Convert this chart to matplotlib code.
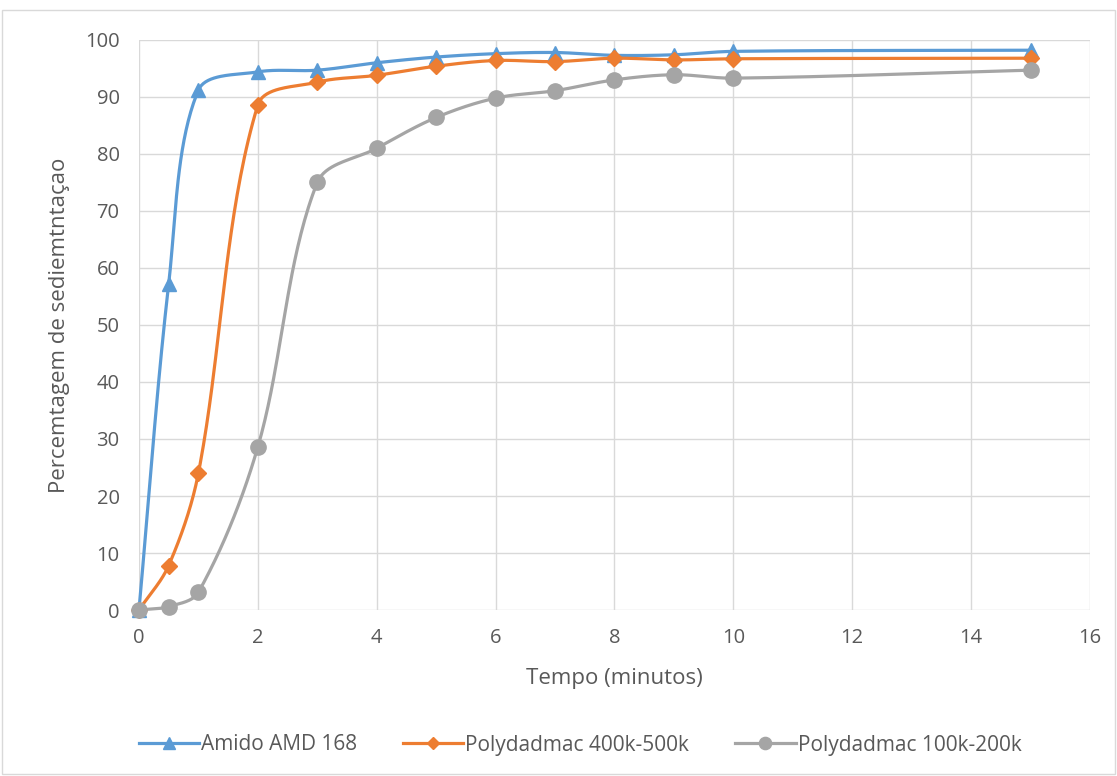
import numpy as np
import matplotlib.pyplot as plt
from matplotlib.patches import Rectangle

plt.rcParams['font.family'] = ['Open Sans', 'DejaVu Sans']

# tempo (min) e percentagem de sedimentacao
tempo = [0, 0.5, 1, 2, 3, 4, 5, 6, 7, 8, 9, 10, 15]
amido = [0, 57.2, 91.2, 94.4, 94.7, 96.0, 97.0, 97.6, 97.8, 97.3, 97.4, 98.0, 98.2]
poly_400 = [0, 7.8, 24.0, 88.6, 92.6, 93.8, 95.4, 96.4, 96.2, 96.8, 96.5, 96.7, 96.8]
poly_100 = [0, 0.6, 3.1, 28.6, 75.0, 81.0, 86.4, 89.8, 91.1, 93.0, 93.9, 93.3, 94.7]

labels = ['Amido AMD 168', 'Polydadmac 400k-500k', 'Polydadmac 100k-200k']
colors = ['#5B9BD5', '#ED7D31', '#A5A5A5']
markers = ['^', 'D', 'o']
msizes = [10, 8, 11]

XMAX, YMAX = 16, 100
# plot box size in pixels, used so the smoothing works in screen space
PX_W, PX_H = 951, 570


def smooth(x, y, n=40, tension=1 / 3):
    # bezier segments; control arm lengths scaled by neighbouring chord lengths
    p = np.column_stack([np.asarray(x) * PX_W / XMAX, np.asarray(y) * PX_H / YMAX])
    m = len(p)
    out_ctrl, in_ctrl = [], []
    for i in range(m):
        prev = p[max(i - 1, 0)]
        nxt = p[min(i + 1, m - 1)]
        tang = nxt - prev
        d_in = np.hypot(*(p[i] - prev))
        d_out = np.hypot(*(nxt - p[i]))
        tot = d_in + d_out
        if tot == 0:
            out_ctrl.append(p[i]); in_ctrl.append(p[i]); continue
        out_ctrl.append(p[i] + tang * tension * d_out / tot)
        in_ctrl.append(p[i] - tang * tension * d_in / tot)
    t = np.linspace(0, 1, n)[:, None]
    segs = []
    for i in range(m - 1):
        p0, p1, p2, p3 = p[i], out_ctrl[i], in_ctrl[i + 1], p[i + 1]
        seg = ((1 - t) ** 3) * p0 + 3 * ((1 - t) ** 2) * t * p1 \
            + 3 * (1 - t) * t ** 2 * p2 + t ** 3 * p3
        segs.append(seg if i == 0 else seg[1:])
    c = np.vstack(segs)
    return c[:, 0] * XMAX / PX_W, c[:, 1] * YMAX / PX_H


fig = plt.figure(figsize=(11.17, 7.76), dpi=100)
fig.patches.append(Rectangle((0.002, 0.002), 0.996, 0.985, transform=fig.transFigure,
                             fill=False, edgecolor='#d9d9d9', linewidth=1))
ax = fig.add_axes([0.1244, 0.2139, 0.8514, 0.7346])

handles = []
for ys, lab, col, mk, ms in zip([amido, poly_400, poly_100], labels, colors, markers, msizes):
    sx, sy = smooth(tempo, ys)
    ax.plot(sx, sy, color=col, linewidth=2.3, clip_on=False, zorder=3)
    ax.plot(tempo, ys, linestyle='none', marker=mk, markersize=ms, color=col,
            clip_on=False, zorder=4)
    h, = ax.plot([], [], color=col, linewidth=2.3, marker=mk, markersize=ms * 0.8)
    handles.append(h)

ax.set_xlim(0, XMAX)
ax.set_ylim(0, YMAX)
ax.set_xticks(range(0, 17, 2))
ax.set_yticks(range(0, 101, 10))
ax.grid(True, color='#d9d9d9', linewidth=1)
ax.set_axisbelow(True)
for s in ax.spines.values():
    s.set_visible(False)
ax.tick_params(length=0, labelsize=14.5, labelcolor='#595959')
ax.tick_params(axis='y', pad=14)
ax.tick_params(axis='x', pad=13)
ax.set_xlabel('Tempo (minutos)', fontsize=16, color='#595959', labelpad=14)
ax.set_ylabel('Percemtagem de sediemtntaçao', fontsize=16, color='#595959', labelpad=11)

fig.legend(handles, labels, loc='center', bbox_to_anchor=(580 / 1117, 1 - 745 / 776),
           ncol=3, frameon=False, fontsize=15, labelcolor='#595959',
           handlelength=2.9, handletextpad=0.1, columnspacing=2.2)

fig.savefig('out.png', dpi=100)
